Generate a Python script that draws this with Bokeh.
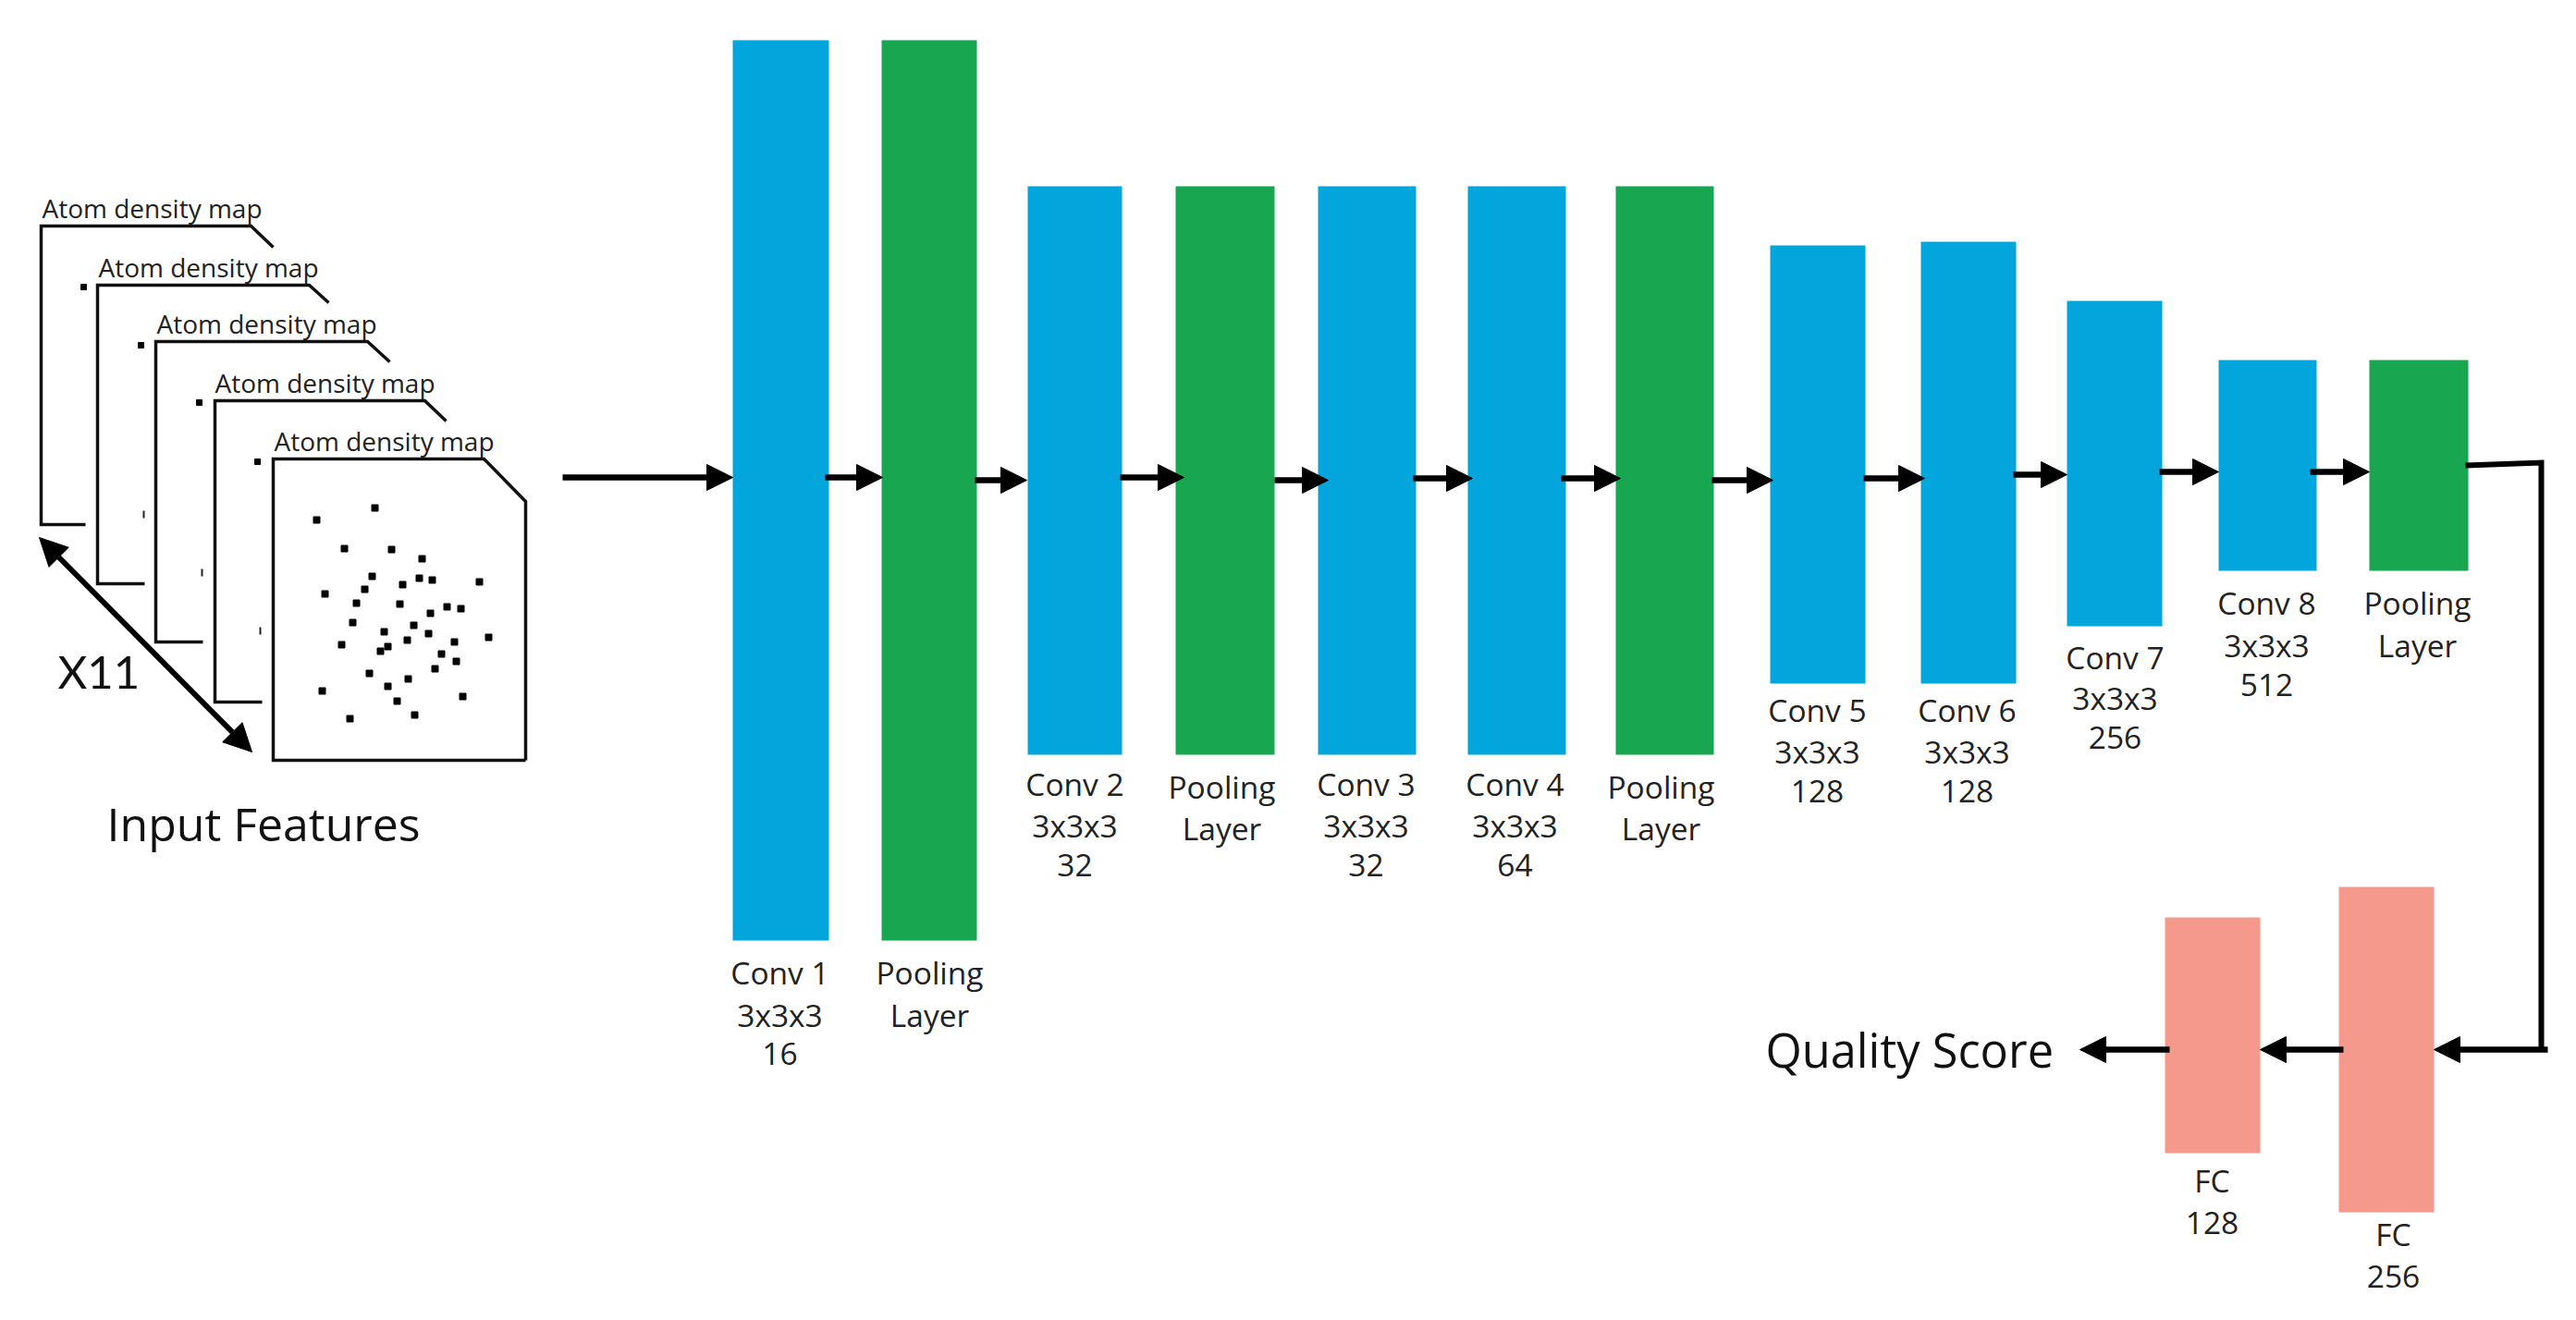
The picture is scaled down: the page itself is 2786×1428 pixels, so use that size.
from bokeh.core.properties import value
from bokeh.embed import file_html
from bokeh.models import Arrow, ColumnDataSource, NormalHead, Range1d
from bokeh.plotting import figure
from bokeh.resources import INLINE

BLUE = '#02a6dd'
GREEN = '#19a651'
SALMON = '#f4998b'
FONT = value('Open Sans')

# layers in picture units
layer_names = ['Conv 1', 'Pool 1', 'Conv 2', 'Pool 2', 'Conv 3', 'Conv 4', 'Pool 3',
               'Conv 5', 'Conv 6', 'Conv 7', 'Conv 8', 'Pool 4', 'FC 256', 'FC 128']
layer_left = [792, 953, 1111, 1271, 1425, 1587, 1747, 1914, 2077, 2235, 2399, 2562, 2529, 2341]
layer_right = [896, 1056, 1213, 1378, 1531, 1693, 1853, 2017, 2180, 2338, 2505, 2669, 2632, 2444]
layer_top = [43, 43, 201, 201, 201, 201, 201, 265, 261, 325, 389, 389, 959, 992]
layer_bottom = [1017, 1017, 816, 816, 816, 816, 816, 739, 739, 677, 617, 617, 1311, 1247]
layer_colors = [BLUE, GREEN, BLUE, GREEN, BLUE, BLUE, GREEN, BLUE, BLUE, BLUE, BLUE, GREEN, SALMON, SALMON]

# captions under the layers
caption_text = ['Conv 1', '3x3x3', '16', 'Pooling', 'Layer',
                'Conv 2', '3x3x3', '32', 'Pooling', 'Layer',
                'Conv 3', '3x3x3', '32', 'Conv 4', '3x3x3', '64', 'Pooling', 'Layer',
                'Conv 5', '3x3x3', '128', 'Conv 6', '3x3x3', '128',
                'Conv 7', '3x3x3', '256', 'Conv 8', '3x3x3', '512', 'Pooling', 'Layer',
                'FC', '128', 'FC', '256']
caption_x = [843, 843, 843, 1005, 1005,
             1162, 1162, 1162, 1321, 1321,
             1477, 1477, 1477, 1638, 1638, 1638, 1796, 1796,
             1965, 1965, 1965, 2127, 2127, 2127,
             2287, 2287, 2287, 2451, 2451, 2451, 2614, 2614,
             2392, 2392, 2588, 2588]
caption_y = [1064, 1110, 1152, 1064, 1110,
             860, 905, 948, 863, 908,
             860, 905, 948, 860, 905, 948, 863, 908,
             780, 825, 868, 780, 825, 868,
             723, 767, 810, 664, 710, 753, 664, 710,
             1289, 1335, 1347, 1393]

# flow arrows
arrow_x0 = [608, 892, 1054, 1211, 1378, 1528, 1688, 1851, 2015, 2177, 2335, 2498, 2755, 2534, 2346]
arrow_x1 = [792, 954, 1110, 1280, 1436, 1592, 1752, 1917, 2081, 2235, 2399, 2562, 2632, 2444, 2249]
arrow_y = [516, 516, 519, 516, 519, 517, 517, 519, 517, 513, 510, 510, 1135, 1135, 1135]

# line from the last pooling layer down to the fully connected part
link_x = [2666, 2748, 2748]
link_y = [503, 500, 1135]

# stacked input maps
map_left = [44, 105, 168, 232, 295]
map_top = [244, 308, 369, 433, 496]
map_cut = [271, 334, 397, 459, 523]
map_edge_x = [295, 355, 421, 482, 568]
map_edge_y = [267, 327, 391, 455, 542]
map_bottom = [567, 631, 694, 759, 822]
map_foot = [92, 156, 219, 283, 568]
map_title_x = [45, 106, 169, 232, 296]
map_title_y = [235, 299, 360, 424, 487]

# atoms in the front map
atom_x = [405, 342, 372, 423, 456, 402, 453, 467, 518, 435, 394, 351, 385, 432, 483, 498, 465, 381,
          447, 415, 463, 528, 440, 491, 369, 419, 411, 477, 493, 470, 399, 441, 419, 348, 500, 429, 448, 378]
atom_y = [549, 562, 593, 594, 604, 623, 625, 627, 629, 632, 637, 642, 652, 653, 656, 658, 663, 673,
          676, 683, 685, 689, 692, 694, 697, 699, 704, 707, 715, 723, 728, 734, 742, 747, 753, 758, 773, 777]
# what shows of the hidden maps
corner_x = [90, 152, 215, 278]
corner_y = [310, 373, 435, 499]
speck_x = [155, 218, 281]
speck_y = [556, 619, 682]

p = figure(width=2770, height=1412, output_backend="svg", toolbar_location=None, tools="",
           x_range=Range1d(0, 2770), y_range=Range1d(1412, 0), min_border=0)
p.axis.visible = False
p.grid.visible = False
p.outline_line_color = None

p.quad(left=layer_left, right=layer_right, top=layer_top, bottom=layer_bottom,
       fill_color=layer_colors, line_color=None)

# input maps
for i in range(len(map_left)):
    if i == len(map_left) - 1:
        # front map is closed, its right side goes straight down
        xs = [map_foot[i], map_edge_x[i], map_cut[i], map_left[i], map_left[i], map_foot[i]]
        ys = [map_bottom[i], map_edge_y[i], map_top[i], map_top[i], map_bottom[i], map_bottom[i]]
    else:
        xs = [map_edge_x[i], map_cut[i], map_left[i], map_left[i], map_foot[i]]
        ys = [map_edge_y[i], map_top[i], map_top[i], map_bottom[i], map_bottom[i]]
    p.line(xs, ys, line_color='#111111', line_width=3.5, line_join='miter')

# the svg text sits low on its baseline, y_offset pulls it back up
p.text(map_title_x, map_title_y, text=['Atom density map'] * 5, text_font=FONT, y_offset=-11,
       text_font_size='28px', text_color='#222222', text_baseline='alphabetic', text_align='left')

p.scatter(atom_x, atom_y, marker='square', size=7, color='black')
p.scatter(corner_x, corner_y, marker='square', size=6, color='black')
p.segment(speck_x, [y - 4 for y in speck_y], speck_x, [y + 4 for y in speck_y], line_color='#222222', line_width=2)

# double headed arrow for the map count
p.add_layout(Arrow(start=NormalHead(size=30, fill_color='black', line_color='black'),
                   end=NormalHead(size=30, fill_color='black', line_color='black'),
                   x_start=42, y_start=581, x_end=272, y_end=813, line_color='black', line_width=6))

p.text([62], [745], text=['X11'], text_font=value('Lato'), text_font_size='49px', text_color='#111111',
       y_offset=-20, text_baseline='alphabetic', text_align='left')
p.text([115], [910], text=['Input Features'], text_font=FONT, text_font_size='50px', text_color='#111111',
       y_offset=-20, text_baseline='alphabetic', text_align='left')
p.text([1909], [1155], text=['Quality Score'], text_font=FONT, text_font_size='50.5px', text_color='#111111',
       y_offset=-20, text_baseline='alphabetic', text_align='left')

p.text(caption_x, caption_y, text=caption_text, text_font=FONT, text_font_size='33.5px', text_color='#222222',
       y_offset=-13, text_baseline='alphabetic', text_align='center')

p.line(link_x, link_y, line_color='black', line_width=6, line_join='miter')

arrows = ColumnDataSource(data=dict(x0=arrow_x0, x1=arrow_x1, y=arrow_y))
p.add_layout(Arrow(end=NormalHead(size=28, fill_color='black', line_color='black'),
                   x_start='x0', y_start='y', x_end='x1', y_end='y', source=arrows,
                   line_color='black', line_width=6.5))

open("out.html", "w").write(file_html(p, INLINE))
